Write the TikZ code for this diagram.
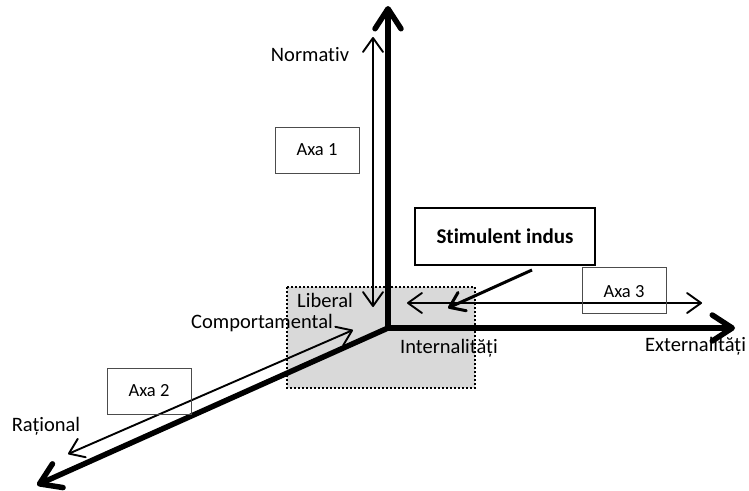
\documentclass[tikz,border=0pt]{standalone}
\usepackage{fontspec}
\setmainfont[Ligatures=NoCommon]{Carlito}
\usetikzlibrary{arrows.meta}
\begin{document}
\begin{tikzpicture}[x=1pt,y=-1pt,
  axisline/.style={line width=5.5pt, line join=miter},
  bighead/.tip={Straight Barb[round,length=20pt,width=26pt]},
  thinhead/.tip={Straight Barb[round,length=14pt,width=20pt]},
  thinaxis/.style={line width=1.9pt},
  lbl/.style={font=\fontsize{20.5}{24}\selectfont, inner sep=0pt},
  axabox/.style={draw=black!70, line width=0.8pt, minimum width=84pt, minimum height=46pt, inner sep=0pt, font=\fontsize{18.5}{22}\selectfont},
  stimbox/.style={draw, line width=2.2pt, fill=white, minimum width=180pt, minimum height=57pt, inner sep=0pt, font=\bfseries\fontsize{21}{25}\selectfont},
  zone/.style={fill=black!15, draw, line width=2pt, dash pattern=on 2pt off 2pt}
]
\useasboundingbox (0,0) rectangle (749,490);

% shaded zone around the origin
\draw[zone] (287,287) rectangle (475,388);

% main axes
\coordinate (o) at (388,328);
\coordinate (top) at (388,6);
\coordinate (right) at (735,328);
\coordinate (bl) at (37,485);
\draw[axisline, bighead-bighead] (top) -- (o) -- (right);
\draw[axisline, -bighead] (o) -- (bl);

% axis labels
\node[lbl] (normativ) at (310,55) {Normativ};
\node[lbl] (liberal) at (325,300) {Liberal};
\node[lbl] (comport) at (262,323) {Comportamental};
\node[lbl, anchor=west] (intern) at (400,348) {Internalități};
\node[lbl, anchor=west] (extern) at (645,346) {Externalități};
\node[lbl] (rational) at (46,426) {Rațional};

% thin double arrows along the axes
\coordinate (a1t) at (373,37);
\coordinate (a1b) at (373,307);
\draw[thinaxis, thinhead-thinhead] (a1t) -- (a1b);
\coordinate (a2t) at (353,330);
\coordinate (a2b) at (68,454);
\draw[thinaxis, thinhead-thinhead] (a2t) -- (a2b);
\coordinate (a3l) at (407,303);
\coordinate (a3r) at (702,303);
\draw[thinaxis, thinhead-thinhead] (a3l) -- (a3r);

% axis name boxes
\node[axabox] (axa1) at (317,150) {Axa 1};
\node[axabox] (axa2) at (149,391) {Axa 2};
\node[axabox] (axa3) at (624,290.5) {};
\node[font=\fontsize{18.5}{22}\selectfont, inner sep=0pt] (axa3t) at (624,292) {Axa 3};

% induced stimulus
\node[stimbox] (stim) at (505,236.5) {Stimulent indus};
\coordinate (stimfrom) at (532,270);
\coordinate (stimto) at (448,308);
\draw[line width=3pt, -thinhead] (stimfrom) -- (stimto);
\end{tikzpicture}
\end{document}
